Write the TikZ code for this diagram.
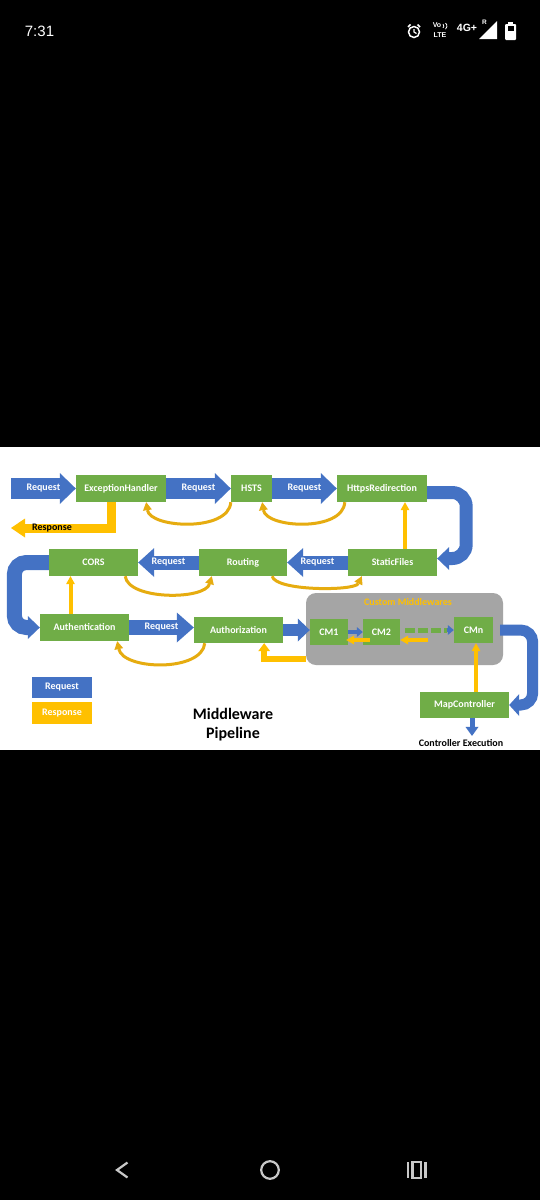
\documentclass[tikz,border=0pt]{standalone}
\usepackage{fontspec}
\setmainfont{Carlito}
\newfontfamily\uifont{Liberation Sans}
\usetikzlibrary{arrows.meta}

\definecolor{mwgreen}{HTML}{70AD47}
\definecolor{reqblue}{HTML}{4472C4}
\definecolor{respgold}{HTML}{FFC000}
\definecolor{curvegold}{HTML}{E6AC10}
\definecolor{cmgray}{HTML}{A5A5A5}
\definecolor{navgray}{HTML}{C8C8C8}

\begin{document}
\begin{tikzpicture}[x=1pt, y=-1pt, font=\bfseries\fontsize{10}{12}\selectfont,
    mw/.style={fill=mwgreen, text=white, inner sep=0pt, minimum width=89pt, minimum height=27pt},
    req/.style={reqblue, line width=14pt, -{Triangle[length=16pt, width=29pt, line width=0pt]}},
    reqtext/.style={midway, text=white},
    uturn/.style={reqblue, line width=13pt, -{Triangle[length=12pt, width=23pt, line width=0pt]}},
    resp/.style={respgold, line width=4pt, -{Triangle[length=8pt, width=9pt, line width=0pt]}},
    respcurve/.style={curvegold, line width=3pt, -{Triangle[length=8pt, width=9pt, line width=0pt]}}]
  \useasboundingbox (0,0) rectangle (540,1200);
  \fill[black] (0,0) rectangle (540,1200);
  \fill[white] (0,447) rectangle (540,750);

  % Status bar
  \node[text=white, font=\uifont\fontsize{15}{18}\selectfont] (time) at (39.5,31) {7:31};
  \draw[white, line width=1.5pt] (414,32) circle (5.5);
  \draw[white, line width=1.2pt] (414,29) -- (414,32) -- (416.5,33.5);
  \draw[white, line width=1.6pt] (408,27) -- (410.5,24.5);
  \draw[white, line width=1.6pt] (420,27) -- (417.5,24.5);
  \node[text=white, font=\uifont\bfseries\fontsize{7}{8}\selectfont] (vo) at (437,25.5) {Vo};
  \draw[white, line width=0.8pt] (443,24) arc[start angle=-50, end angle=50, radius=2.5];
  \draw[white, line width=0.8pt] (445.5,23) arc[start angle=-50, end angle=50, radius=4];
  \node[text=white, font=\uifont\bfseries\fontsize{7}{8}\selectfont] (lte) at (440,35) {LTE};
  \node[text=white, font=\uifont\bfseries\fontsize{10.5}{12}\selectfont] (net) at (467,27.5) {4G+};
  \node[text=white, font=\uifont\bfseries\fontsize{6.5}{8}\selectfont] (roam) at (484.5,22.5) {R};
  \fill[white] (479,39) -- (497,39) -- (497,21) -- cycle;
  \fill[white, rounded corners=1pt] (505,24) rectangle (516,40);
  \fill[white] (508,22) rectangle (513,24);
  \fill[black] (507.5,26) rectangle (513.5,31);

  % Row 1: ExceptionHandler, HSTS, HttpsRedirection
  \node[mw, minimum width=90pt] (eh) at (121,488.5) {ExceptionHandler};
  \node[mw, minimum width=41pt] (hsts) at (251.5,488.5) {HSTS};
  \node[mw, minimum width=90pt] (hr) at (382,488.5) {HttpsRedirection};
  \coordinate (in) at (11,488.5);
  \draw[req, line width=21pt, -{Triangle[length=16pt, width=31pt, line width=0pt]}] (in) -- (eh.west) node[reqtext] (r1) {Request};
  \draw[req, line width=21pt, -{Triangle[length=16pt, width=31pt, line width=0pt]}] (eh) -- (hsts) node[reqtext] (r2) {Request};
  \draw[req, line width=21pt, -{Triangle[length=16pt, width=31pt, line width=0pt]}] (hsts) -- (hr) node[reqtext] (r3) {Request};

  % Response leaving the pipeline
  \coordinate (out) at (11,528);
  \draw[respgold, line width=9pt, -{Triangle[length=14pt, width=19pt, line width=0pt]}] ([xshift=-10pt]eh.south) |- (out);
  \node[text=black] (resp) at (52,528) {Response};

  % Row 2: StaticFiles, Routing, CORS
  \node[mw] (sf) at (392.5,562.5) {StaticFiles};
  \node[mw, minimum width=88pt] (routing) at (243,562.5) {Routing};
  \node[mw] (cors) at (93.5,562.5) {CORS};
  \draw[uturn, rounded corners=14pt] ([yshift=-4pt]hr.east) -- ++(39,0) |- ([yshift=4pt]sf.east);
  \draw[req] (sf) -- (routing) node[reqtext] (r4) {Request};
  \draw[req] (routing) -- (cors) node[reqtext] (r5) {Request};

  % Row 3: Authentication, Authorization
  \node[mw] (authn) at (84.5,627.5) {Authentication};
  \node[mw, minimum height=26pt] (authz) at (238.5,630) {Authorization};
  \draw[uturn, line width=15pt, rounded corners=12pt] (cors.west) -- ++(-34.5,0) |- (authn.west);
  \draw[req, line width=15pt, -{Triangle[length=17pt, width=30pt, line width=0pt]}] (authn.east) -- (authn.east -| authz.west) node[reqtext] (r6) {Request};

  % Custom middlewares
  \node[fill=cmgray, rounded corners=10pt, minimum width=197pt, minimum height=72pt] (custom) at (404.5,629) {};
  \node[text=respgold] (customlbl) at (408,602) {Custom Middlewares};
  \node[mw, minimum width=38pt, minimum height=26pt] (cm1) at (329,632) {CM1};
  \node[mw, minimum width=37pt, minimum height=26pt] (cm2) at (381.5,632) {CM2};
  \node[mw, minimum width=39pt, minimum height=26pt] (cmn) at (473.5,630) {CMn};
  \draw[reqblue, line width=12pt, -{Triangle[length=12pt, width=23pt, line width=0pt]}] (authz.east) -- (authz.east -| cm1.west);
  \draw[reqblue, line width=4pt, -{Triangle[length=6pt, width=10pt, line width=0pt]}] (cm1) -- (cm2);
  \draw[resp, line width=4pt] ([xshift=7pt, yshift=-8pt]cm2.west) -- ([xshift=-2pt, yshift=-8pt]cm1.east);
  \coordinate (dots) at (447,630);
  \coordinate (back) at (428,640);
  \draw[mwgreen, line width=5pt, dash pattern=on 10pt off 3pt] ([xshift=5pt]cm2.east |- dots) -- (dots);
  \draw[reqblue, line width=4pt, -{Triangle[length=6pt, width=10pt, line width=0pt]}] (dots) -- (cmn.west);
  \draw[resp] (back) -- (back -| cm2.east);
  \draw[respgold, line width=6pt, -{Triangle[length=8pt, width=12pt, line width=0pt]}] ([yshift=6pt]custom.south west) -| ([xshift=-19pt]authz.south east);

  % MapController
  \node[mw, minimum height=26pt] (mc) at (464.5,705) {MapController};
  \draw[uturn, line width=11pt, rounded corners=12pt, -{Triangle[length=10pt, width=22pt, line width=0pt]}] ([xshift=7pt]cmn.east) -- ++(32.5,0) |- (mc.east);
  \node[text=black] (exec) at (461,743) {Controller Execution};
  \draw[reqblue, line width=5pt, -{Triangle[length=9pt, width=13pt, line width=0pt]}] ([xshift=7.5pt]mc.south) -- ([xshift=7.5pt]mc.south |- exec.north);

  % Responses flowing back
  \draw[resp] ([xshift=12.5pt]sf.north) -- ([xshift=12.5pt]sf.north |- hr.south);
  \draw[resp] ([xshift=-14pt]authn.north) -- ([xshift=-14pt]authn.north |- cors.south);
  \draw[resp] ([xshift=11.5pt]mc.north) -- ([xshift=11.5pt]mc.north |- cmn.south);
  \draw[respcurve] (hsts.south west) .. controls +(-2,30) and +(4,26) .. ([xshift=-20pt]eh.south east);
  \draw[respcurve] ([xshift=8pt]hr.south west) .. controls +(-2,30) and +(4,26) .. ([xshift=-10pt]hsts.south east);
  \draw[respcurve] ([xshift=-13pt]cors.south east) .. controls +(3,24) and +(-7,24) .. ([xshift=13pt]routing.south west);
  \draw[respcurve] ([xshift=-15pt]routing.south east) .. controls +(3,15) and +(-7,15) .. ([xshift=14pt]sf.south west);
  \draw[respcurve] ([xshift=11pt]authz.south west) .. controls +(-3,29) and +(6,29) .. ([xshift=-12pt]authn.south east);

  % Legend and title
  \node[fill=reqblue, text=white, inner sep=0pt, minimum width=60pt, minimum height=21pt] (keyreq) at (62,687.5) {Request};
  \node[fill=respgold, text=white, inner sep=0pt, minimum width=60pt, minimum height=22pt] (keyresp) at (62,713) {Response};
  \node[align=center, font=\bfseries\fontsize{16}{19}\selectfont] (title) at (233,724.5) {Middleware\\Pipeline};

  % Navigation bar
  \draw[navgray, line width=2.2pt] (127.5,1162.5) -- (117,1170) -- (127.5,1177.5);
  \draw[navgray, line width=2.2pt] (270,1170) circle (8.8);
  \draw[navgray, line width=2.2pt] (408,1162) -- (408,1178) (425.5,1162) -- (425.5,1178);
  \draw[navgray, line width=2.2pt] (412.5,1162) rectangle (421,1178);
\end{tikzpicture}
\end{document}
